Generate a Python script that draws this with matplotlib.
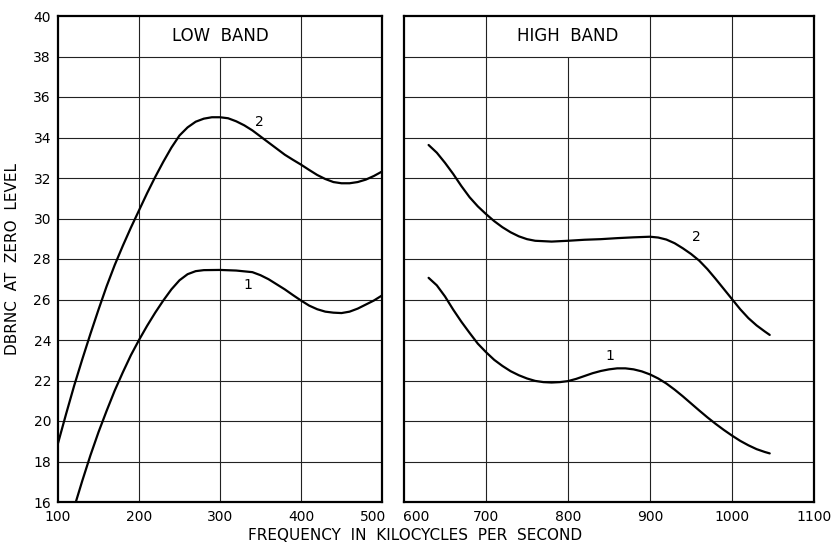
import matplotlib
matplotlib.use("Agg")
import matplotlib.pyplot as plt
from matplotlib.transforms import ScaledTranslation

# ---- data ----
low_x2 = [100, 110, 120, 130, 140, 150, 160, 170, 180, 190, 200, 210, 220, 230, 240,
          250, 260, 270, 280, 290, 300, 310, 320, 330, 340, 350, 360, 370, 380, 390,
          400, 410, 420, 430, 440, 450, 460, 470, 480, 490, 500]
low_y2 = [18.9, 20.35, 21.75, 23.05, 24.3, 25.5, 26.65, 27.7, 28.65, 29.55, 30.4, 31.25,
          32.05, 32.8, 33.5, 34.1, 34.5, 34.78, 34.93, 35.0, 35.0, 34.95, 34.8, 34.6, 34.35,
          34.05, 33.75, 33.45, 33.15, 32.9, 32.66, 32.4, 32.15, 31.95, 31.8, 31.74, 31.74,
          31.8, 31.92, 32.1, 32.32]

low_x1 = [122, 130, 140, 150, 160, 170, 180, 190, 200, 210, 220, 230, 240, 250, 260,
          270, 280, 300, 320, 340, 350, 360, 370, 380, 390, 400, 410, 420, 430, 440,
          450, 460, 470, 480, 490, 500]
low_y1 = [16.0, 17.05, 18.3, 19.45, 20.5, 21.5, 22.4, 23.25, 24.0, 24.7, 25.35, 25.95,
          26.5, 26.95, 27.25, 27.4, 27.45, 27.46, 27.43, 27.35, 27.2, 27.0, 26.75, 26.5,
          26.22, 25.95, 25.7, 25.52, 25.4, 25.35, 25.33, 25.4, 25.55, 25.75, 25.95, 26.2]

high_x2 = [630, 640, 650, 660, 670, 680, 690, 700, 710, 720, 730, 740, 750, 760, 780,
           800, 820, 840, 860, 880, 900, 910, 920, 930, 940, 950, 960, 970, 980, 990,
           1000, 1010, 1020, 1030, 1040, 1046]
high_y2 = [33.63, 33.25, 32.75, 32.2, 31.6, 31.05, 30.6, 30.22, 29.87, 29.57, 29.32, 29.12,
           28.98, 28.9, 28.86, 28.9, 28.95, 28.98, 29.03, 29.07, 29.1, 29.06, 28.96, 28.78,
           28.53, 28.25, 27.92, 27.5, 27.02, 26.52, 26.02, 25.52, 25.08, 24.72, 24.42, 24.25]

high_x1 = [630, 640, 650, 660, 670, 680, 690, 700, 710, 720, 730, 740, 750, 760, 770,
           780, 790, 800, 810, 820, 830, 840, 850, 860, 870, 880, 890, 900, 910, 920,
           930, 940, 950, 960, 970, 980, 990, 1000, 1010, 1020, 1030, 1040, 1046]
high_y1 = [27.07, 26.7, 26.15, 25.5, 24.9, 24.35, 23.82, 23.4, 23.02, 22.72, 22.46, 22.26,
           22.1, 21.98, 21.92, 21.9, 21.92, 21.97, 22.08, 22.22, 22.36, 22.47, 22.55, 22.6,
           22.6, 22.55, 22.45, 22.3, 22.1, 21.85, 21.55, 21.22, 20.87, 20.52, 20.18, 19.86,
           19.56, 19.28, 19.02, 18.8, 18.61, 18.47, 18.4]

y_ticks = [16, 18, 20, 22, 24, 26, 28, 30, 32, 34, 36, 38, 40]
low_xticks = [100, 200, 300, 400, 500]
high_xticks = [600, 700, 800, 900, 1000, 1100]

panel_titles = ["LOW  BAND", "HIGH  BAND"]
title_x = [300, 800]
title_y = 39.0
label_pos_low = {"2": (349, 34.75), "1": (335, 26.7)}
label_pos_high = {"2": (957, 29.1), "1": (851, 23.2)}

# ---- figure ----
plt.rcParams['font.family'] = ['DejaVu Sans']
fig = plt.figure(figsize=(8.32, 5.44), dpi=100)
ax1 = fig.add_axes([58/832, 42/544, 324/832, 486/544])
ax2 = fig.add_axes([404/832, 42/544, 410/832, 486/544])

grid_kw = dict(color="#222222", linewidth=0.8, zorder=1)
curve_kw = dict(color="black", linewidth=1.6, zorder=3, solid_capstyle="round",
                solid_joinstyle="round")

TICK_FS = 10

def setup(ax, xlim, xticks, breaker_x):
    ax.set_xlim(*xlim)
    ax.set_ylim(16, 40)
    ax.set_xticks(xticks)
    ax.set_xticklabels([str(t) for t in xticks], fontsize=TICK_FS)
    ax.tick_params(axis="x", length=0, pad=6)
    ax.tick_params(axis="y", length=0, pad=5)
    ax.hlines([y for y in y_ticks if 16 < y < 40], xlim[0], xlim[1], **grid_kw)
    for t in xticks:
        if xlim[0] < t < xlim[1]:
            top = 38 if t == breaker_x else 40
            ax.vlines(t, 16, top, **grid_kw)
    for s in ax.spines.values():
        s.set_linewidth(1.6)
        s.set_color("black")

setup(ax1, (100, 500), low_xticks, 300)
setup(ax2, (600, 1100), high_xticks, 800)

ax1.set_yticks(y_ticks)
ax1.set_yticklabels([str(t) for t in y_ticks], fontsize=TICK_FS)
ax2.set_yticks([])

# nudge the adjacent 500 / 600 labels apart, as in the reference
lab500 = ax1.get_xticklabels()[-1]
lab500.set_transform(lab500.get_transform() + ScaledTranslation(-0.09, 0, fig.dpi_scale_trans))
lab600 = ax2.get_xticklabels()[0]
lab600.set_transform(lab600.get_transform() + ScaledTranslation(0.12, 0, fig.dpi_scale_trans))

ax1.plot(low_x2, low_y2, **curve_kw)
ax1.plot(low_x1, low_y1, **curve_kw)
ax2.plot(high_x2, high_y2, **curve_kw)
ax2.plot(high_x1, high_y1, **curve_kw)

ax1.text(title_x[0], title_y, panel_titles[0], ha="center", va="center", fontsize=12)
ax2.text(title_x[1], title_y, panel_titles[1], ha="center", va="center", fontsize=12)
for k, (x, y) in label_pos_low.items():
    ax1.text(x, y, k, ha="center", va="center", fontsize=10)
for k, (x, y) in label_pos_high.items():
    ax2.text(x, y, k, ha="center", va="center", fontsize=10)

fig.text(13/832, 1 - 259/544, "DBRNC  AT  ZERO  LEVEL", rotation=90, ha="center",
         va="center", fontsize=11)
fig.text(415/832, 1 - 535/544, "FREQUENCY  IN  KILOCYCLES  PER  SECOND", ha="center",
         va="center", fontsize=11)

fig.savefig("out.png", dpi=100)
